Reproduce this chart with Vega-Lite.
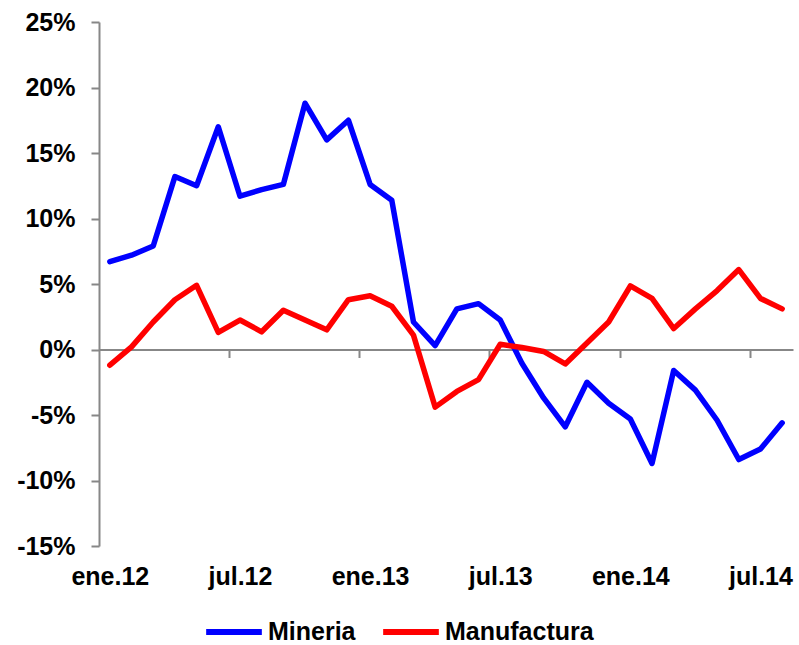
{
  "$schema": "https://vega.github.io/schema/vega-lite/v6.json",
  "autosize": "none",
  "width": 694,
  "height": 524,
  "padding": {"left": 99, "top": 22, "right": 6, "bottom": 99},
  "background": "white",
  "config": {
    "view": {"stroke": null},
    "axis": {"labelFont": "Liberation Sans", "labelFontWeight": "bold", "labelColor": "black", "grid": false, "title": null}
  },
  "data": {
    "values": [
      {"mes": "ene.12", "Mineria": 6.7, "Manufactura": -1.2},
      {"mes": "feb.12", "Mineria": 7.2, "Manufactura": 0.2},
      {"mes": "mar.12", "Mineria": 7.9, "Manufactura": 2.1},
      {"mes": "abr.12", "Mineria": 13.2, "Manufactura": 3.8},
      {"mes": "may.12", "Mineria": 12.5, "Manufactura": 4.9},
      {"mes": "jun.12", "Mineria": 17.0, "Manufactura": 1.3},
      {"mes": "jul.12", "Mineria": 11.7, "Manufactura": 2.25},
      {"mes": "ago.12", "Mineria": 12.2, "Manufactura": 1.35},
      {"mes": "sep.12", "Mineria": 12.6, "Manufactura": 3.0},
      {"mes": "oct.12", "Mineria": 18.8, "Manufactura": 2.25},
      {"mes": "nov.12", "Mineria": 16.0, "Manufactura": 1.5},
      {"mes": "dic.12", "Mineria": 17.5, "Manufactura": 3.8},
      {"mes": "ene.13", "Mineria": 12.6, "Manufactura": 4.1},
      {"mes": "feb.13", "Mineria": 11.4, "Manufactura": 3.3},
      {"mes": "mar.13", "Mineria": 2.1, "Manufactura": 1.1},
      {"mes": "abr.13", "Mineria": 0.3, "Manufactura": -4.4},
      {"mes": "may.13", "Mineria": 3.1, "Manufactura": -3.2},
      {"mes": "jun.13", "Mineria": 3.5, "Manufactura": -2.3},
      {"mes": "jul.13", "Mineria": 2.25, "Manufactura": 0.4},
      {"mes": "ago.13", "Mineria": -1.05, "Manufactura": 0.15},
      {"mes": "sep.13", "Mineria": -3.7, "Manufactura": -0.15},
      {"mes": "oct.13", "Mineria": -5.9, "Manufactura": -1.1},
      {"mes": "nov.13", "Mineria": -2.5, "Manufactura": 0.5},
      {"mes": "dic.13", "Mineria": -4.1, "Manufactura": 2.1},
      {"mes": "ene.14", "Mineria": -5.3, "Manufactura": 4.85},
      {"mes": "feb.14", "Mineria": -8.7, "Manufactura": 3.9},
      {"mes": "mar.14", "Mineria": -1.6, "Manufactura": 1.6},
      {"mes": "abr.14", "Mineria": -3.1, "Manufactura": 3.1},
      {"mes": "may.14", "Mineria": -5.4, "Manufactura": 4.5},
      {"mes": "jun.14", "Mineria": -8.4, "Manufactura": 6.1},
      {"mes": "jul.14", "Mineria": -7.6, "Manufactura": 3.9},
      {"mes": "ago.14", "Mineria": -5.6, "Manufactura": 3.1}
    ]
  },
  "transform": [
    {"fold": ["Mineria", "Manufactura"], "as": ["serie", "valor"]}
  ],
  "encoding": {
    "y": {
      "field": "valor",
      "type": "quantitative",
      "scale": {"domain": [-15, 25], "nice": false, "zero": false},
      "axis": {
        "values": [-15, -10, -5, 0, 5, 10, 15, 20, 25],
        "labelExpr": "datum.value + '%'",
        "labelFontSize": 25,
        "labelPadding": 16,
        "tickSize": 8,
        "tickWidth": 2,
        "tickColor": "#878787",
        "domainColor": "#878787",
        "domainWidth": 2
      }
    }
  },
  "layer": [
    {
      "mark": {"type": "line", "strokeWidth": 5.5, "strokeJoin": "round", "strokeCap": "round"},
      "encoding": {
        "x": {
          "field": "mes",
          "type": "ordinal",
          "sort": null,
          "scale": {"type": "point", "padding": 0.5},
          "axis": {
            "orient": "bottom",
            "values": ["ene.12", "jul.12", "ene.13", "jul.13", "ene.14", "jul.14"],
            "labelAngle": 0,
            "labelFontSize": 25,
            "labelPadding": 18,
            "ticks": false,
            "domain": false
          }
        },
        "color": {
          "field": "serie",
          "type": "nominal",
          "sort": ["Mineria", "Manufactura"],
          "scale": {"domain": ["Mineria", "Manufactura"], "range": ["#0000FF", "#FF0000"]},
          "legend": {
            "orient": "none",
            "direction": "horizontal",
            "legendX": 104,
            "legendY": 596,
            "title": null,
            "padding": 0,
            "clipHeight": 28,
            "symbolType": "stroke",
            "symbolSize": 3100,
            "symbolStrokeWidth": 6,
            "labelFont": "Liberation Sans",
            "labelFontWeight": "bold",
            "labelFontSize": 25,
            "labelColor": "black",
            "labelOffset": 3,
            "labelLimit": 0,
            "columnPadding": 24
          }
        }
      }
    },
    {
      "mark": {"type": "line", "strokeOpacity": 0},
      "encoding": {
        "x": {
          "field": "mes",
          "type": "ordinal",
          "sort": null,
          "scale": {"type": "point", "padding": 0.5},
          "axis": {
            "orient": "bottom",
            "offset": -196.5,
            "values": ["jul.12", "ene.13", "jul.13", "ene.14", "jul.14"],
            "labels": false,
            "tickOffset": -10.84,
            "tickSize": 8,
            "tickWidth": 2,
            "tickColor": "#878787",
            "domainColor": "#878787",
            "domainWidth": 2
          }
        }
      }
    }
  ],
  "resolve": {"axis": {"x": "independent"}}
}
